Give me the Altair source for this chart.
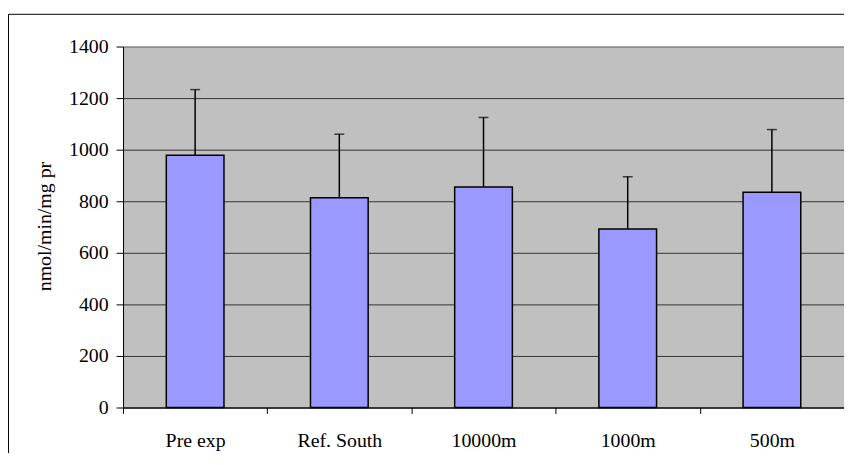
import altair as alt
import pandas as pd

categories = ["Pre exp", "Ref. South", "10000m", "1000m", "500m"]
means = [978, 814, 855, 692, 835]
errors = [255, 246, 270, 203, 243]
y_ticks = [0, 200, 400, 600, 800, 1000, 1200, 1400]

df = pd.DataFrame({"site": categories, "mean": means, "err": errors})
df["upper"] = df["mean"] + df["err"]

FONT = "Liberation Serif"

x_enc = alt.X(
    "site:N",
    sort=categories,
    scale=alt.Scale(paddingInner=0, paddingOuter=0),
    axis=alt.Axis(
        title=None,
        labelAngle=0,
        tickBand="extent",
        tickSize=6,
        tickColor="black",
        tickWidth=1,
        domainColor="black",
        domainWidth=1,
        labelPadding=17,
        labelFont=FONT,
        labelFontSize=20,
        labelColor="black",
        grid=False,
    ),
)

y_scale = alt.Scale(domain=[0, 1400], nice=False, zero=True)
y_axis = alt.Axis(
    title="nmol/min/mg pr",
    values=y_ticks,
    format="d",
    tickSize=7,
    tickColor="black",
    tickWidth=1,
    domainColor="black",
    domainWidth=1,
    labelPadding=8,
    labelFont=FONT,
    labelFontSize=20,
    labelColor="black",
    titleFont=FONT,
    titleFontSize=20,
    titleFontWeight="normal",
    titleColor="black",
    titleX=-69,
    titleY=181,
    titleAngle=-90,
    titleBaseline="bottom",
    grid=True,
    gridColor={"condition": {"test": "datum.value >= 1400", "value": "#808080"}, "value": "#333333"},
    gridWidth=1,
)

base = alt.Chart(df)

bars = base.mark_bar(
    width=alt.RelativeBandSize(0.4),
    color="#9999FF",
    stroke="black",
    strokeWidth=1.5,
).encode(
    x=x_enc,
    y=alt.Y("mean:Q", scale=y_scale, axis=y_axis),
)

err_rule = base.mark_rule(color="black", strokeWidth=1.5).encode(
    x=alt.X("site:N", sort=categories),
    y=alt.Y("mean:Q"),
    y2="upper:Q",
)

caps = base.mark_tick(color="black", size=10, thickness=1.5).encode(
    x=alt.X("site:N", sort=categories),
    y=alt.Y("upper:Q"),
)

border = alt.Chart(pd.DataFrame({"k": [0]})).mark_rect(
    fillOpacity=0, stroke="black", strokeWidth=1
).encode(
    x=alt.value(-115.5),
    x2=alt.value(3000),
    y=alt.value(-32.5),
    y2=alt.value(3000),
)

chart = alt.layer(border, bars, err_rule, caps).properties(
    width=727,
    height=364,
    autosize=alt.AutoSizeParams(type="none"),
    padding={"left": 116, "top": 37, "right": 0, "bottom": 44},
    background="white",
).configure_view(
    fill="#C0C0C0",
    stroke="#808080",
    strokeWidth=1,
)

chart.save("out.html", embed_options={"renderer": "svg", "actions": False})
